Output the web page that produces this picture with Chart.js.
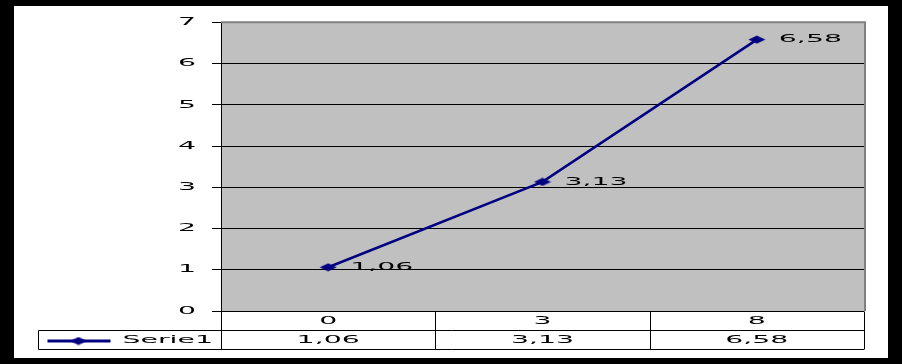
<!DOCTYPE html>
<html>
<head>
<meta charset="utf-8">
<script src="https://cdn.jsdelivr.net/npm/chart.js@4/dist/chart.umd.min.js"></script>
<style>
  html, body { margin: 0; padding: 0; background: #000; }
  #frame { position: absolute; left: 14px; top: 6px; width: 874px; height: 352px; background: #fff; overflow: hidden; }
  #chart { position: absolute; left: 0; top: -6px; }
</style>
</head>
<body>
<div id="frame"><canvas id="chart" width="874" height="358"></canvas></div>
<script>
const categories = ["0", "3", "8"];
const serieName = "Serie1";
const serieValues = [1.06, 3.13, 6.58];
const yMin = 0;
const yMax = 7;

const NAVY = "#000080";
const FONT = "DejaVu Sans";
const SX = 2.7; // the original text is stretched wide

const fmt = (v) => v.toFixed(2).replace(".", ",");

// flattened diamond marker
const marker = document.createElement("canvas");
marker.width = 18;
marker.height = 9;
const mctx = marker.getContext("2d");
mctx.fillStyle = NAVY;
mctx.beginPath();
mctx.moveTo(0.5, 4.5);
mctx.lineTo(9, 0.5);
mctx.lineTo(17.5, 4.5);
mctx.lineTo(9, 8.5);
mctx.closePath();
mctx.fill();

const canvas = document.getElementById("chart");
const ctx = canvas.getContext("2d");

// stretch every piece of text horizontally
const origFill = ctx.fillText.bind(ctx);
ctx.fillText = function (text, x, y) {
  ctx.save();
  ctx.translate(x, y);
  ctx.scale(SX, 1);
  origFill(text, 0, 0);
  ctx.restore();
};

const framePlugin = {
  id: "frame",
  beforeDraw(chart) {
    const c = chart.ctx;
    const a = chart.chartArea;
    c.save();
    c.fillStyle = "#c0c0c0";
    c.fillRect(a.left, a.top, a.right - a.left, a.bottom - a.top);
    c.restore();
  },
  afterDatasetsDraw(chart) {
    const c = chart.ctx;
    const a = chart.chartArea;
    const meta = chart.getDatasetMeta(0);
    c.save();
    // data labels
    c.font = "10.5px '" + FONT + "'";
    c.fillStyle = "#000";
    c.textAlign = "left";
    c.textBaseline = "middle";
    meta.data.forEach((pt, i) => {
      c.fillText(fmt(serieValues[i]), pt.x + 22, pt.y);
    });
    // gray border top / right
    c.strokeStyle = "#808080";
    c.lineWidth = 2;
    c.beginPath();
    c.moveTo(a.left, a.top);
    c.lineTo(a.right + 1, a.top);
    c.lineTo(a.right + 1, a.bottom);
    c.stroke();
    c.restore();
  },
  afterDraw(chart) {
    const c = chart.ctx;
    const a = chart.chartArea;
    const x = chart.scales.x;
    const rowH = 19;
    const colW = (a.right - a.left) / categories.length;
    const legLeft = 24.5;
    const top = Math.round(a.bottom) + 0.5;
    c.save();
    c.strokeStyle = "#000";
    c.lineWidth = 1;
    c.beginPath();
    c.moveTo(a.left, top);
    c.lineTo(a.right, top);
    c.moveTo(legLeft, top + rowH);
    c.lineTo(a.right, top + rowH);
    c.moveTo(legLeft, top + 2 * rowH);
    c.lineTo(a.right, top + 2 * rowH);
    c.moveTo(legLeft, top + rowH);
    c.lineTo(legLeft, top + 2 * rowH);
    for (let k = 0; k <= categories.length; k++) {
      const px = Math.round(a.left + k * colW) + 0.5;
      c.moveTo(px, top);
      c.lineTo(px, top + 2 * rowH);
    }
    c.stroke();

    c.font = "10.5px '" + FONT + "'";
    c.fillStyle = "#000";
    c.textAlign = "center";
    c.textBaseline = "middle";
    categories.forEach((cat, i) => {
      const px = x.getPixelForValue(i);
      c.fillText(cat, px, top + rowH / 2);
      c.fillText(fmt(serieValues[i]), px, top + rowH * 1.5);
    });

    // legend key
    const ly = top + rowH * 1.5 + 1;
    c.strokeStyle = NAVY;
    c.lineWidth = 3;
    c.beginPath();
    c.moveTo(legLeft + 9, ly);
    c.lineTo(legLeft + 72, ly);
    c.stroke();
    c.drawImage(marker, legLeft + 40 - 9, ly - 4.5);
    c.textAlign = "left";
    c.fillText(serieName, legLeft + 84, top + rowH * 1.5);
    c.restore();
  },
};

new Chart(ctx, {
  type: "line",
  data: {
    labels: categories,
    datasets: [
      {
        label: serieName,
        data: serieValues,
        borderColor: NAVY,
        borderWidth: 2.5,
        pointStyle: marker,
        tension: 0,
      },
    ],
  },
  options: {
    responsive: false,
    animation: false,
    layout: { padding: { left: 0, top: 10, right: 24, bottom: 47 } },
    plugins: {
      legend: { display: false },
      tooltip: { enabled: false },
    },
    scales: {
      x: {
        display: false,
        offset: true,
      },
      y: {
        min: yMin,
        max: yMax,
        afterFit: (scale) => {
          scale.width = 207;
        },
        ticks: {
          stepSize: 1,
          padding: 16,
          color: "#000",
          font: { family: FONT, size: 10.5 },
        },
        grid: {
          color: "#000",
          lineWidth: 1,
          tickLength: 9,
        },
        border: { color: "#000", width: 1 },
      },
    },
  },
  plugins: [framePlugin],
});
</script>
</body>
</html>
